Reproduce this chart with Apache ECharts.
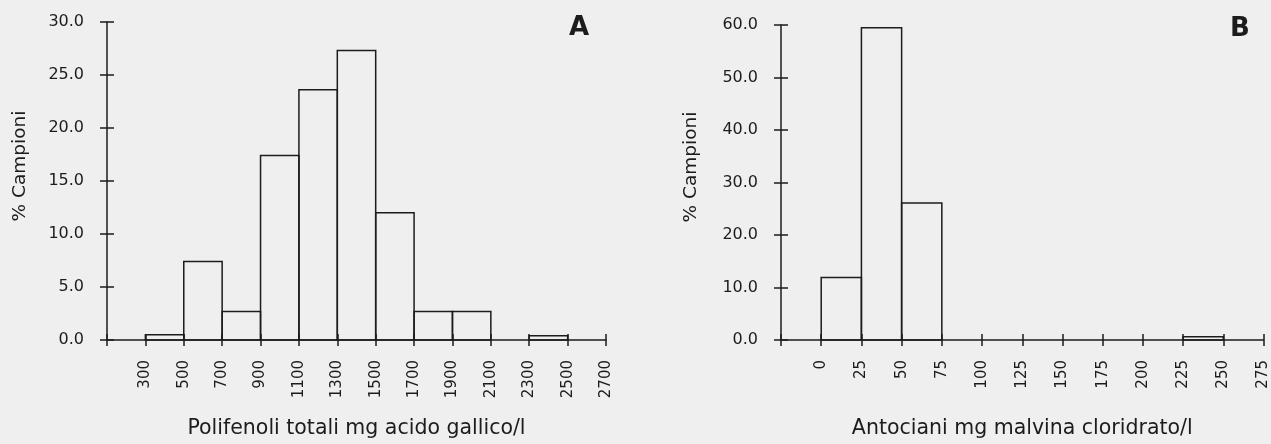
<!DOCTYPE html>
<html>
<head>
<meta charset="utf-8">
<script src="https://cdn.jsdelivr.net/npm/echarts@6/dist/echarts.min.js"></script>
<style>
html,body{margin:0;padding:0;background:#efefef;}
#c{width:1271px;height:444px;}
</style>
</head>
<body>
<div id="c"></div>
<script>
// Panel A: Polifenoli totali (mg acido gallico/l)
const polyBinStart = [300, 500, 700, 900, 1100, 1300, 1500, 1700, 1900, 2100, 2300];
const polyBinEnd   = [500, 700, 900, 1100, 1300, 1500, 1700, 1900, 2100, 2300, 2500];
const polyPercent  = [0.5, 7.4, 2.7, 17.4, 23.6, 27.3, 12.0, 2.7, 2.7, 0, 0.4];

// Panel B: Antociani (mg malvina cloridrato/l)
const antoBinStart = [0, 25, 50, 75, 100, 125, 150, 175, 200, 225, 250];
const antoBinEnd   = [25, 50, 75, 100, 125, 150, 175, 200, 225, 250, 275];
const antoPercent  = [11.9, 59.5, 26.1, 0, 0, 0, 0, 0, 0, 0.6, 0];

const titleA = 'Polifenoli totali mg acido gallico/l';
const titleB = 'Antociani mg malvina cloridrato/l';
const yTitle = '% Campioni';

const FONT = 'DejaVu Sans';
const INK = '#1c1c1c';
const LW = 1.5;

function renderBar(params, api) {
  const x0 = api.value(0), x1 = api.value(1), v = api.value(2);
  if (!v) return null;
  const p0 = api.coord([x0, 0]);
  const p1 = api.coord([x1, v]);
  return {
    type: 'rect',
    shape: {x: p0[0], y: p1[1], width: p1[0] - p0[0], height: p0[1] - p1[1]},
    style: {fill: 'none', stroke: INK, lineWidth: LW}
  };
}

function xAx(gridIndex, min, max, interval, hideVal, name, main) {
  return {
    type: 'value', gridIndex, min, max, interval, position: 'bottom',
    splitLine: {show: false},
    axisLine: {show: main, onZero: false, lineStyle: {color: INK, width: LW}},
    axisTick: {show: true, inside: !main, length: 6, lineStyle: {color: INK, width: LW}},
    axisLabel: main ? {
      show: true, rotate: 90, margin: 20, color: INK, fontFamily: FONT, fontSize: 15,
      formatter: v => (v === hideVal ? '' : String(v))
    } : {show: false},
    name: main ? name : '', nameLocation: 'middle', nameGap: 78,
    nameTextStyle: {color: INK, fontFamily: FONT, fontSize: 20.5}
  };
}
function yAx(gridIndex, max, interval, main) {
  return {
    type: 'value', gridIndex, min: 0, max, interval, position: 'left',
    splitLine: {show: false},
    axisLine: {show: main, onZero: false, lineStyle: {color: INK, width: LW}},
    axisTick: {show: true, inside: !main, length: 7, lineStyle: {color: INK, width: LW}},
    axisLabel: main ? {
      show: true, margin: 23, color: INK, fontFamily: FONT, fontSize: 16,
      formatter: v => v.toFixed(1)
    } : {show: false}
  };
}

const chart = echarts.init(document.getElementById('c'), null, {renderer: 'canvas'});
chart.setOption({
  backgroundColor: '#efefef',
  animation: false,
  grid: [
    {left: 107, top: 22, width: 499, height: 318},
    {left: 781, top: 25, width: 485, height: 317}
  ],
  xAxis: [
    xAx(0, 100, 2700, 200, 100, titleA, true),
    xAx(0, 100, 2700, 200, 100, '', false),
    xAx(1, -25, 275, 25, -25, titleB, true),
    xAx(1, -25, 275, 25, -25, '', false)
  ],
  yAxis: [
    yAx(0, 30, 5, true),
    yAx(0, 30, 5, false),
    yAx(1, 60, 10, true),
    yAx(1, 60, 10, false)
  ],
  graphic: [
    {type: 'text', x: 20, y: 166, rotation: Math.PI / 2,
     style: {text: yTitle, font: '18.5px "DejaVu Sans"', fill: INK, align: 'center', verticalAlign: 'middle'}},
    {type: 'text', x: 691, y: 167, rotation: Math.PI / 2,
     style: {text: yTitle, font: '18.5px "DejaVu Sans"', fill: INK, align: 'center', verticalAlign: 'middle'}},
    {type: 'text', x: 579, y: 28,
     style: {text: 'A', font: 'bold 26px "DejaVu Sans"', fill: INK, align: 'center', verticalAlign: 'middle'}},
    {type: 'text', x: 1240, y: 29,
     style: {text: 'B', font: 'bold 26px "DejaVu Sans"', fill: INK, align: 'center', verticalAlign: 'middle'}}
  ],
  series: [
    {type: 'custom', xAxisIndex: 0, yAxisIndex: 0, renderItem: renderBar,
     encode: {x: [0, 1], y: 2},
     data: polyBinStart.map((s, i) => [s, polyBinEnd[i], polyPercent[i]])},
    {type: 'custom', xAxisIndex: 2, yAxisIndex: 2, renderItem: renderBar,
     encode: {x: [0, 1], y: 2},
     data: antoBinStart.map((s, i) => [s, antoBinEnd[i], antoPercent[i]])}
  ]
});
</script>
</body>
</html>
